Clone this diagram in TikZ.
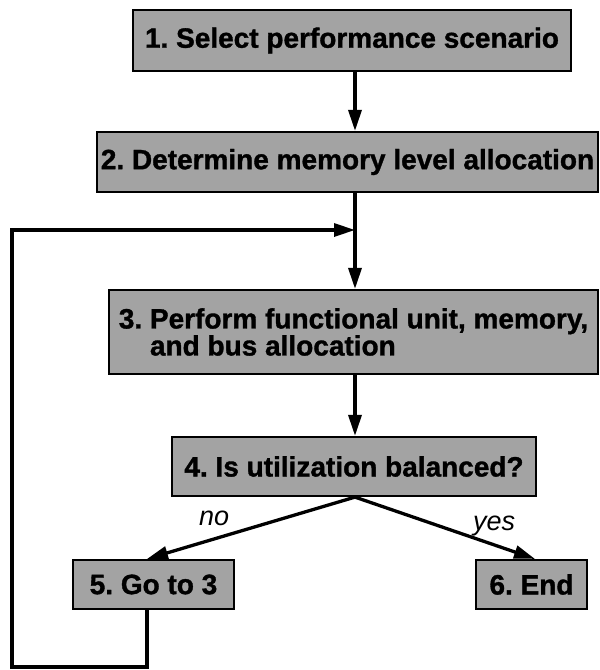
\documentclass[tikz,border=0pt]{standalone}
\usepackage{fontspec}
\setmainfont{Liberation Sans}
\newfontfamily\stepfont{Liberation Sans Bold}[FakeBold=1.2]
\usetikzlibrary{arrows.meta}
\definecolor{boxgray}{gray}{0.64}
\begin{document}
\begin{tikzpicture}[x=1pt,y=-1pt,
  stepbox/.style={draw=black, line width=2.2pt, fill=boxgray,
    font=\fontsize{28}{27}\selectfont\stepfont\frenchspacing, inner sep=0pt, anchor=center},
  flow/.style={line width=3.3pt, line join=miter,
    -{Triangle[length=21pt,width=13pt]}},
  answer/.style={font=\fontsize{27}{30}\selectfont\itshape, inner sep=0pt,
    anchor=base west}]
\useasboundingbox (0,0) rectangle (600,670);
\fill[white] (0,0) rectangle (600,670);

% process steps
\node[stepbox, minimum width=438pt, minimum height=61pt] (b1) at (352,40.5)
  {1. Select performance scenario};
\node[stepbox, minimum width=501pt, minimum height=60pt] (b2) at (347.5,162)
  {2. Determine memory level allocation};
\node[stepbox, minimum width=489pt, minimum height=84pt, align=left] (b3) at (353.5,332)
  {3. Perform functional unit, memory,\\\phantom{3. }and bus allocation};
\node[stepbox, minimum width=364pt, minimum height=59pt] (b4) at (354,466.5)
  {4. Is utilization balanced?};
\node[stepbox, minimum width=161pt, minimum height=49pt] (b5) at (153.5,584.5)
  {5. Go to 3};
\node[stepbox, minimum width=111pt, minimum height=49pt] (b6) at (531.5,584.5)
  {6. End};

% helper points of the main spine and the feedback loop
\coordinate (join) at (355,230);
\coordinate (low) at (12,667);

% main flow
\draw[flow] (b1.south -| join) -- (b2.north -| join);
\draw[flow] (b2.south -| join) -- (b3.north -| join);
\draw[flow] (b3.south -| join) -- (b4.north -| join);

% decision branches
\draw[flow] (b4.south -| join) -- ([xshift=-6.5pt]b5.north);
\draw[flow] (b4.south -| join) -- ([xshift=3.5pt]b6.north);
\node[answer] (no) at (199,525) {no};
\node[answer] (yes) at (473,530) {yes};

% loop back into step 3
\draw[flow] ([xshift=-6.5pt]b5.south) |- (low) |- (join);
\end{tikzpicture}
\end{document}
